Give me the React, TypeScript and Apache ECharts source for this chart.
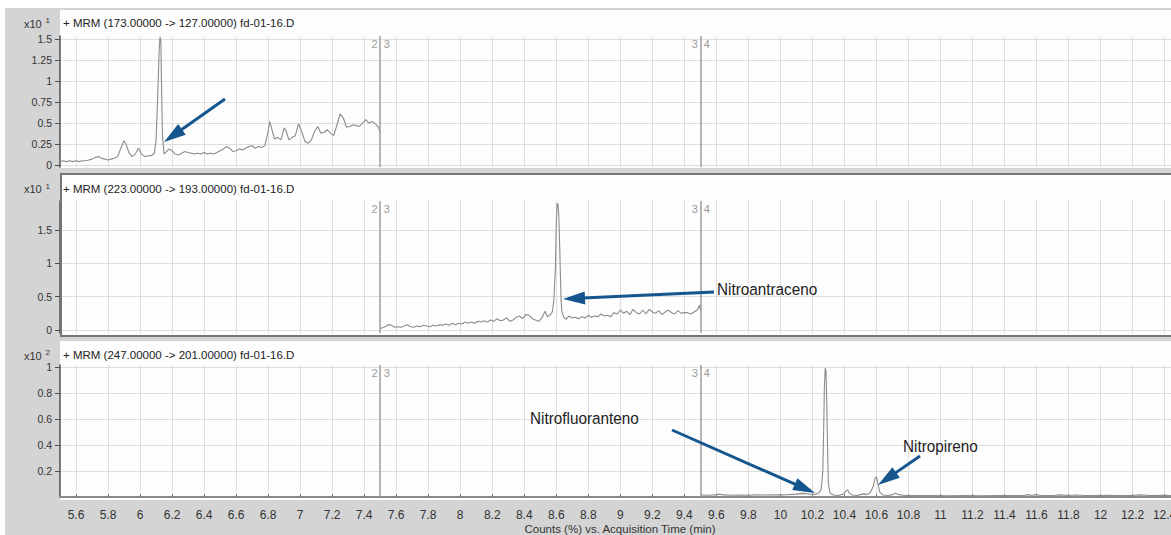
import React, { useEffect, useRef } from "react";
import * as echarts from "echarts";

// Acquisition-time tick marks (min) shared by all three panels
const timeTicks = [
  5.6, 5.8, 6, 6.2, 6.4, 6.6, 6.8, 7, 7.2, 7.4, 7.6, 7.8, 8, 8.2, 8.4, 8.6, 8.8, 9,
  9.2, 9.4, 9.6, 9.8, 10, 10.2, 10.4, 10.6, 10.8, 11, 11.2, 11.4, 11.6, 11.8, 12,
  12.2, 12.4,
];
const timeMin = 5.5;
const timeMax = 12.44;

// Time-segment boundaries and their segment numbers
const segmentBreaks = [7.5, 9.5];
const segmentNames = [
  ["2", "3"],
  ["3", "4"],
];

// Count-axis ticks per transition
const ticks173 = [0, 0.25, 0.5, 0.75, 1, 1.25, 1.5];
const ticks223 = [0, 0.5, 1, 1.5];
const ticks247 = [0.2, 0.4, 0.6, 0.8, 1];

const panelTitles = [
  "+ MRM (173.00000 -> 127.00000) fd-01-16.D",
  "+ MRM (223.00000 -> 193.00000) fd-01-16.D",
  "+ MRM (247.00000 -> 201.00000) fd-01-16.D",
];
const panelExponents = ["1", "1", "2"];

// MRM 173 -> 127 (x10^1 counts)
const trace173: [number, number][] = [
  [5.5, 0.04], [5.52, 0.05], [5.54, 0.04], [5.56, 0.05], [5.58, 0.04], [5.6, 0.05],
  [5.62, 0.04], [5.64, 0.05], [5.66, 0.05], [5.68, 0.06], [5.7, 0.07], [5.72, 0.09],
  [5.74, 0.1], [5.76, 0.08], [5.78, 0.07], [5.8, 0.06], [5.82, 0.07], [5.84, 0.08],
  [5.86, 0.1], [5.88, 0.2], [5.9, 0.29], [5.91, 0.26], [5.93, 0.15], [5.95, 0.1],
  [5.97, 0.13], [5.99, 0.2], [6.01, 0.13], [6.03, 0.1], [6.05, 0.11], [6.07, 0.11],
  [6.09, 0.14], [6.1, 0.3], [6.11, 0.8], [6.12, 1.4], [6.125, 1.53], [6.13, 1.48],
  [6.135, 0.85], [6.14, 0.35], [6.15, 0.13], [6.16, 0.15], [6.18, 0.19], [6.2, 0.17],
  [6.22, 0.13], [6.24, 0.12], [6.26, 0.14], [6.28, 0.16], [6.3, 0.15], [6.32, 0.14],
  [6.34, 0.13], [6.36, 0.14], [6.38, 0.13], [6.4, 0.15], [6.42, 0.13], [6.44, 0.14],
  [6.46, 0.13], [6.48, 0.15], [6.5, 0.17], [6.52, 0.19], [6.54, 0.22], [6.56, 0.2],
  [6.58, 0.16], [6.6, 0.17], [6.62, 0.19], [6.64, 0.18], [6.66, 0.2], [6.68, 0.22],
  [6.7, 0.23], [6.72, 0.2], [6.74, 0.22], [6.76, 0.21], [6.78, 0.23], [6.8, 0.4],
  [6.81, 0.52], [6.82, 0.45], [6.84, 0.31], [6.86, 0.33], [6.88, 0.3], [6.9, 0.44],
  [6.91, 0.42], [6.93, 0.3], [6.95, 0.33], [6.97, 0.35], [6.99, 0.49], [7.01, 0.4],
  [7.03, 0.28], [7.05, 0.26], [7.07, 0.3], [7.09, 0.4], [7.11, 0.46], [7.13, 0.38],
  [7.15, 0.39], [7.17, 0.42], [7.19, 0.38], [7.21, 0.35], [7.23, 0.48], [7.25, 0.61],
  [7.27, 0.56], [7.29, 0.45], [7.31, 0.46], [7.33, 0.48], [7.35, 0.47], [7.37, 0.46],
  [7.39, 0.5], [7.41, 0.54], [7.43, 0.5], [7.45, 0.52], [7.47, 0.49], [7.49, 0.45],
  [7.5, 0.38],
];

// MRM 223 -> 193 (x10^1 counts)
const trace223: [number, number][] = [
  [7.5, 0.02], [7.51, 0.03], [7.53, 0.05], [7.55, 0.08], [7.57, 0.07], [7.59, 0.04],
  [7.61, 0.05], [7.63, 0.04], [7.65, 0.06], [7.67, 0.08], [7.69, 0.05], [7.71, 0.04],
  [7.73, 0.06], [7.75, 0.05], [7.77, 0.07], [7.79, 0.06], [7.81, 0.05], [7.83, 0.07],
  [7.85, 0.06], [7.87, 0.08], [7.89, 0.07], [7.91, 0.09], [7.93, 0.07], [7.95, 0.1],
  [7.97, 0.08], [7.99, 0.1], [8.01, 0.09], [8.03, 0.12], [8.05, 0.1], [8.07, 0.12],
  [8.09, 0.1], [8.11, 0.13], [8.13, 0.12], [8.15, 0.14], [8.17, 0.12], [8.19, 0.15],
  [8.21, 0.13], [8.23, 0.17], [8.25, 0.14], [8.27, 0.15], [8.29, 0.18], [8.31, 0.13],
  [8.33, 0.15], [8.35, 0.19], [8.37, 0.21], [8.39, 0.17], [8.41, 0.23], [8.43, 0.22],
  [8.45, 0.17], [8.47, 0.15], [8.49, 0.13], [8.51, 0.18], [8.53, 0.28], [8.545, 0.2],
  [8.56, 0.22], [8.575, 0.27], [8.585, 0.45], [8.595, 0.95], [8.6, 1.6], [8.605, 1.88],
  [8.61, 1.9], [8.615, 1.75], [8.62, 1.4], [8.625, 0.9], [8.63, 0.45], [8.635, 0.28],
  [8.645, 0.2], [8.66, 0.16], [8.68, 0.21], [8.7, 0.18], [8.72, 0.19], [8.74, 0.17],
  [8.76, 0.2], [8.78, 0.18], [8.8, 0.22], [8.82, 0.19], [8.84, 0.21], [8.86, 0.2],
  [8.88, 0.24], [8.9, 0.21], [8.92, 0.22], [8.94, 0.2], [8.96, 0.26], [8.98, 0.24],
  [9.0, 0.3], [9.02, 0.25], [9.04, 0.28], [9.06, 0.23], [9.08, 0.31], [9.1, 0.26],
  [9.12, 0.24], [9.14, 0.3], [9.16, 0.24], [9.18, 0.31], [9.2, 0.27], [9.22, 0.25],
  [9.24, 0.29], [9.26, 0.23], [9.28, 0.27], [9.3, 0.3], [9.32, 0.26], [9.34, 0.24],
  [9.36, 0.29], [9.38, 0.25], [9.4, 0.26], [9.42, 0.26], [9.44, 0.24], [9.46, 0.27],
  [9.48, 0.3], [9.495, 0.37], [9.5, 0.3],
];

// MRM 247 -> 201 (x10^2 counts)
const trace247: [number, number][] = [
  [9.5, 0.015], [9.55, 0.014], [9.6, 0.018], [9.62, 0.022], [9.64, 0.016], [9.7, 0.014],
  [9.75, 0.015], [9.8, 0.013], [9.85, 0.016], [9.9, 0.015], [9.95, 0.017], [10.0, 0.016],
  [10.05, 0.018], [10.1, 0.022], [10.14, 0.028], [10.17, 0.025], [10.2, 0.02],
  [10.22, 0.022], [10.24, 0.03], [10.255, 0.06], [10.265, 0.2], [10.27, 0.5],
  [10.275, 0.85], [10.28, 0.99], [10.285, 0.97], [10.29, 0.7], [10.295, 0.35],
  [10.3, 0.1], [10.31, 0.03], [10.33, 0.015], [10.36, 0.012], [10.39, 0.02],
  [10.41, 0.045], [10.42, 0.055], [10.43, 0.03], [10.45, 0.015], [10.48, 0.012],
  [10.5, 0.018], [10.52, 0.024], [10.54, 0.02], [10.56, 0.03], [10.58, 0.08],
  [10.59, 0.14], [10.6, 0.155], [10.61, 0.1], [10.62, 0.04], [10.64, 0.015],
  [10.67, 0.012], [10.7, 0.018], [10.72, 0.028], [10.74, 0.018], [10.78, 0.012],
  [10.85, 0.011], [10.95, 0.012], [11.05, 0.01], [11.15, 0.011], [11.25, 0.01],
  [11.35, 0.011], [11.45, 0.012], [11.52, 0.011], [11.55, 0.018], [11.57, 0.012],
  [11.6, 0.02], [11.62, 0.011], [11.7, 0.012], [11.75, 0.016], [11.8, 0.012],
  [11.85, 0.015], [11.9, 0.011], [12.0, 0.012], [12.05, 0.014], [12.1, 0.011],
  [12.2, 0.012], [12.25, 0.016], [12.3, 0.012], [12.4, 0.013], [12.44, 0.012],
];

const traces = [trace173, trace223, trace247];
const yTicks = [ticks173, ticks223, ticks247];

// Panel geometry (page pixels) and value ranges
const panels = [
  { box: [60, 10, 1111, 158], top: 36, bottom: 167, yMin: -0.024, yMax: 1.539, titleY: 23 },
  { box: [60, 173, 1111, 164], top: 201, bottom: 333, yMin: -0.045, yMax: 1.934, titleY: 188.5 },
  { box: [60, 341, 1111, 159], top: 365, bottom: 497, yMin: 0, yMax: 1.015, titleY: 355 },
];

// Compound annotations: label position and arrow tail -> tip
const annotations = [
  { text: "", x: 0, y: 0, tail: [225, 99], tip: [164, 142] },
  { text: "Nitroantraceno", x: 717, y: 289, tail: [714, 292], tip: [563, 299] },
  { text: "Nitrofluoranteno", x: 530, y: 418, tail: [672, 430], tip: [815, 493] },
  { text: "Nitropireno", x: 903, y: 446, tail: [920, 456], tip: [878, 485] },
];

const FONT = "'Liberation Sans', Arial, sans-serif";
const TRACE = "#8c8c8c";
const AXIS = "#505050";
const GRIDLINE = "#dedede";
const ARROW = "#16568f";

function arrow(id: string, tail: number[], tip: number[]) {
  const dx = tip[0] - tail[0];
  const dy = tip[1] - tail[1];
  const len = Math.hypot(dx, dy);
  const ux = dx / len;
  const uy = dy / len;
  const headLen = 22;
  const half = 6.5;
  const bx = tip[0] - ux * headLen;
  const by = tip[1] - uy * headLen;
  return [
    {
      id: id + "-shaft",
      type: "line",
      z: 100,
      shape: { x1: tail[0], y1: tail[1], x2: bx + ux * 2, y2: by + uy * 2 },
      style: { stroke: ARROW, lineWidth: 3 },
    },
    {
      id: id + "-head",
      type: "polygon",
      z: 100,
      shape: {
        points: [
          [tip[0], tip[1]],
          [bx - uy * half, by + ux * half],
          [bx + uy * half, by - ux * half],
        ],
      },
      style: { fill: ARROW },
    },
  ];
}

export default function App() {
  const ref = useRef<HTMLDivElement>(null);

  useEffect(() => {
    document.body.style.margin = "0";
    const chart = echarts.init(ref.current!, null, { renderer: "svg" });

    const option: any = {
      animation: false,
      backgroundColor: "transparent",
      grid: panels.map((p) => ({
        left: 60,
        top: p.top,
        width: 1111,
        height: p.bottom - p.top,
        containLabel: false,
        outerBoundsMode: "none",
      })),
      xAxis: panels.map((p, i) => {
        const isBottom = i === panels.length - 1;
        return {
          type: "value",
          gridIndex: i,
          min: timeMin,
          max: timeMax,
          offset: isBottom ? 6 : 0,
          axisLine: { show: isBottom, lineStyle: { color: "#8a8a8a", width: 2 } },
          axisTick: {
            show: isBottom,
            inside: true,
            length: 3,
            customValues: timeTicks,
            lineStyle: { color: "#707070" },
          },
          axisLabel: {
            show: isBottom,
            customValues: timeTicks,
            margin: 6,
            fontFamily: FONT,
            fontSize: 12,
            color: "#333",
            formatter: (v: number) => String(v),
          },
          splitLine: { show: true, lineStyle: { color: GRIDLINE, width: 1 } },
        };
      }),
      yAxis: panels.map((p, i) => ({
        type: "value",
        gridIndex: i,
        min: p.yMin,
        max: p.yMax,
        axisLine: { show: true, lineStyle: { color: AXIS, width: 1.5 } },
        axisTick: {
          show: true,
          length: 5,
          customValues: yTicks[i],
          lineStyle: { color: AXIS },
        },
        axisLabel: {
          customValues: yTicks[i],
          margin: 8,
          fontFamily: FONT,
          fontSize: 10.5,
          color: "#333",
          formatter: (v: number) => String(v),
        },
        splitLine: { show: true, lineStyle: { color: GRIDLINE, width: 1 } },
      })),
      series: traces.map((data, i) => ({
        type: "line",
        xAxisIndex: i,
        yAxisIndex: i,
        data,
        showSymbol: false,
        symbol: "none",
        silent: true,
        lineStyle: { color: TRACE, width: 1.1 },
        z: 3,
        markLine: {
          silent: true,
          symbol: ["none", "none"],
          label: { show: false },
          lineStyle: { color: "#9c9c9c", width: 1.5, type: "solid" },
          emphasis: { disabled: true },
          data: segmentBreaks.map((t) => ({ xAxis: t })),
        },
      })),
    };
    chart.setOption(option);

    const elements: any[] = [
      {
        id: "bg",
        type: "rect",
        z: -20,
        shape: { x: 5, y: 8, width: 1166, height: 527 },
        style: { fill: "#d4d4d4" },
      },
    ];

    panels.forEach((p, i) => {
      const [bx, by, bw, bh] = p.box;
      elements.push({
        id: "panel" + i,
        type: "rect",
        z: -10,
        shape: { x: bx, y: by, width: bw, height: bh },
        style: { fill: "#fdfdfd" },
      });
      if (i === 1) {
        elements.push({
          id: "panel-active",
          type: "rect",
          z: 50,
          shape: { x: bx + 1, y: by + 1, width: bw, height: bh - 2 },
          style: { fill: "none", stroke: "#767676", lineWidth: 2 },
        });
      }
      elements.push({
        id: "title" + i,
        type: "text",
        z: 60,
        x: 63,
        y: p.titleY,
        style: {
          text: panelTitles[i],
          fontFamily: FONT,
          fontSize: 11.5,
          fill: "#222",
          textVerticalAlign: "middle",
        },
      });
      elements.push({
        id: "scale" + i,
        type: "text",
        z: 60,
        x: 24,
        y: p.titleY + 0.5,
        style: {
          text: "x10",
          fontFamily: FONT,
          fontSize: 11,
          fill: "#333",
          textVerticalAlign: "middle",
        },
      });
      elements.push({
        id: "exp" + i,
        type: "text",
        z: 60,
        x: 45.5,
        y: p.titleY - 2.5,
        style: {
          text: panelExponents[i],
          fontFamily: FONT,
          fontSize: 8,
          fill: "#333",
          textVerticalAlign: "middle",
        },
      });
      segmentBreaks.forEach((t, k) => {
        const px = chart.convertToPixel({ xAxisIndex: i }, t) as number;
        elements.push({
          id: `seg-${i}-${k}-a`,
          type: "text",
          z: 60,
          x: px - 2.5,
          y: p.top + 8,
          style: {
            text: segmentNames[k][0],
            fontFamily: FONT,
            fontSize: 11,
            fill: "#9a9a9a",
            textAlign: "right",
            textVerticalAlign: "middle",
          },
        });
        elements.push({
          id: `seg-${i}-${k}-b`,
          type: "text",
          z: 60,
          x: px + 3.5,
          y: p.top + 8,
          style: {
            text: segmentNames[k][1],
            fontFamily: FONT,
            fontSize: 11,
            fill: "#9a9a9a",
            textAlign: "left",
            textVerticalAlign: "middle",
          },
        });
      });
    });

    elements.push({
      id: "xname",
      type: "text",
      z: 60,
      x: 620,
      y: 529,
      style: {
        text: "Counts (%) vs. Acquisition Time (min)",
        fontFamily: FONT,
        fontSize: 11.5,
        fill: "#333",
        textAlign: "center",
        textVerticalAlign: "middle",
      },
    });

    annotations.forEach((a, i) => {
      elements.push(...arrow("arrow" + i, a.tail, a.tip));
      if (a.text) {
        elements.push({
          id: "note" + i,
          type: "text",
          z: 100,
          x: a.x,
          y: a.y,
          scaleX: 0.9,
          style: {
            text: a.text,
            fontFamily: FONT,
            fontSize: 17,
            fill: "#1e1e1e",
            textVerticalAlign: "middle",
          },
        });
      }
    });

    chart.setOption({ graphic: { elements } });

    return () => chart.dispose();
  }, []);

  return (
    <div
      ref={ref}
      style={{ position: "absolute", left: 0, top: 0, width: 1171, height: 535, background: "#fff" }}
    />
  );
}
